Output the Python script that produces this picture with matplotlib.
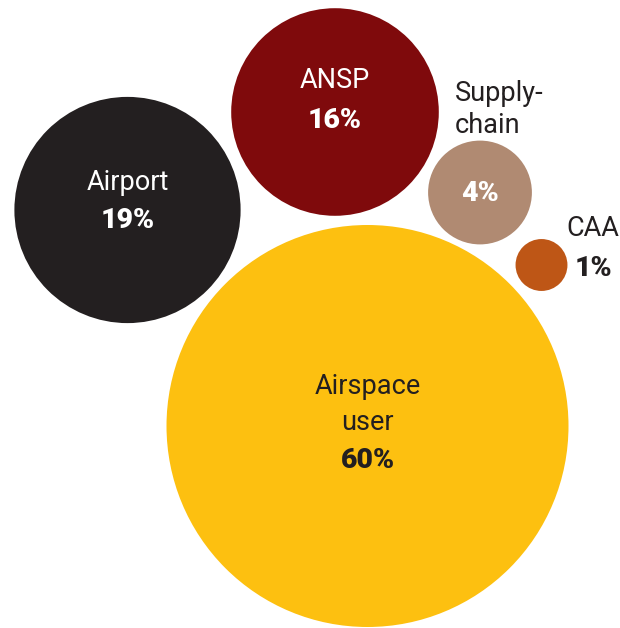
import numpy as np
import matplotlib
matplotlib.use("Agg")
import matplotlib.pyplot as plt
from matplotlib.patches import Circle

# Share of respondents by stakeholder group
categories = ["Airspace user", "Airport", "ANSP", "Supply-chain", "CAA"]
shares = [60, 19, 16, 4, 1]
display_names = ["Airspace\nuser", "Airport", "ANSP", "Supply-\nchain", "CAA"]

colors = ["#FDC010", "#231F20", "#7F0A0C", "#B08A72", "#BE5616"]
text_colors = ["#231F20", "#FFFFFF", "#FFFFFF", "#FFFFFF", "#231F20"]

# Packed layout (centres in pixel space) and the radius of the largest bubble
centers = [(367.5, 426), (127.5, 210), (335, 112), (480, 192.5), (541.5, 265)]
max_radius = 201

W, H = 620, 628
fig = plt.figure(figsize=(W / 100, H / 100), dpi=100)
ax = fig.add_axes([0, 0, 1, 1])
ax.set_xlim(0, W)
ax.set_ylim(H, 0)
ax.set_aspect("equal")
ax.axis("off")

vmax = max(shares)
font = "Roboto"
fs = 19.5
fs_pct = 20.5
for cat, val, name, col, tcol, (cx, cy) in zip(categories, shares, display_names,
                                               colors, text_colors, centers):
    r = max_radius * np.sqrt(val / vmax)
    ax.add_patch(Circle((cx, cy), r, facecolor=col, edgecolor="none"))
    pct = f"{val}%"
    if cat == "Airspace user":
        ax.text(cx, cy - 21.5, name, ha="center", va="center", color=tcol,
                fontsize=fs, family=font, linespacing=1.45)
        ax.text(cx, cy + 35, pct, ha="center", va="center", color=tcol,
                fontsize=fs_pct, family=font, fontweight="heavy")
    elif cat in ("Airport", "ANSP"):
        ax.text(cx, cy - 28 if cat == "Airport" else cy - 32, name, ha="center",
                va="center", color=tcol, fontsize=fs, family=font)
        ax.text(cx, cy + 10 if cat == "Airport" else cy + 8, pct, ha="center",
                va="center", color=tcol, fontsize=fs_pct, family=font,
                fontweight="heavy")
    elif cat == "Supply-chain":
        ax.text(cx - 25, cy - 83, name, ha="left", va="center", color="#231F20",
                fontsize=fs, family=font, linespacing=1.2)
        ax.text(cx, cy + 1, pct, ha="center", va="center", color=tcol,
                fontsize=fs_pct, family=font, fontweight="heavy")
    else:
        ax.text(cx + 25, cy - 36, name, ha="left", va="center", color=tcol,
                fontsize=fs, family=font)
        ax.text(cx + 33, cy + 4, pct, ha="left", va="center", color=tcol,
                fontsize=fs_pct, family=font, fontweight="heavy")

fig.savefig("out.png", dpi=100, facecolor="white")
